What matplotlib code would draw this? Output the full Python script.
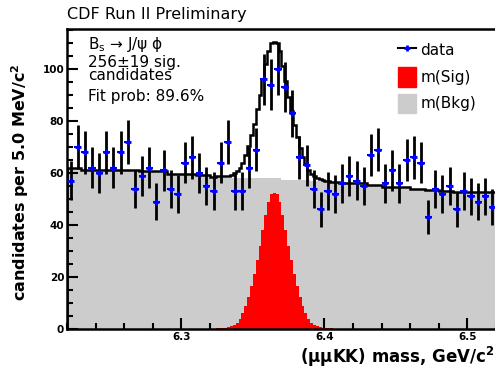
import numpy as np
import matplotlib.pyplot as plt
from matplotlib.lines import Line2D
from matplotlib.patches import Patch
from matplotlib.ticker import MultipleLocator

# Data: counts per 5 MeV bin from 6.22 to 6.52 GeV
bin_lo = 6.22
bin_width = 0.005
counts = [57, 70, 68, 62, 60, 68, 62, 68, 72, 54,
          59, 62, 49, 61, 54, 52, 64, 66, 60, 55,
          53, 64, 72, 53, 53, 62, 69, 96, 94, 100,
          93, 83, 66, 63, 54, 46, 53, 52, 56, 59,
          57, 55, 67, 69, 56, 61, 56, 65, 66, 64,
          43, 54, 52, 55, 46, 53, 51, 49, 51, 47]

# Background template, 10 MeV steps
bkg = [62, 61.2, 61.2, 61, 61, 60.8, 60.8, 59.8, 59.5, 59.3,
       58.5, 58.2, 58, 58, 58, 57.3, 57.3, 57, 56.5, 56,
       56, 55.5, 54.7, 54.5, 53.8, 53.6, 53, 52.8, 52.8, 52.6]

# Signal template, 2 MeV steps from 6.324 to 6.406
sig_lo = 6.324
sig = [0.2, 0.3, 0.4, 0.5, 0.8, 1.2, 1.7, 2.5, 4, 6,
       9, 12.5, 16.5, 21, 26.5, 32, 38, 44, 49, 52,
       52.5,
       52, 49, 44, 38, 32, 26.5, 21, 16.5, 12.5, 9,
       6, 4, 2.5, 1.7, 1.2, 0.8, 0.5, 0.4, 0.3, 0.2]


def main():
    x = bin_lo + bin_width * (np.arange(len(counts)) + 0.5)
    y = np.array(counts, dtype=float)

    # fine 2 MeV grid for the fit curve
    edges = np.linspace(6.22, 6.52, 151)
    bkg_fine = np.repeat(bkg, 5)
    sig_fine = np.zeros(150)
    i0 = int(round((sig_lo - 6.22) / 0.002))
    sig_fine[i0:i0 + len(sig)] = sig
    total = bkg_fine + sig_fine
    sig_edges = edges[i0:i0 + len(sig) + 1]

    fig = plt.figure(figsize=(4.95, 3.74), dpi=100)
    ax = fig.add_axes([67 / 495, 45 / 374, 429 / 495, 300 / 374])

    ax.stairs(bkg_fine, edges, fill=True, color='#cccccc', zorder=1)
    ax.stairs(sig, sig_edges, fill=True, color='#ff0000', zorder=2)
    ax.stairs(total, edges, color='black', lw=1.8, zorder=3)

    ax.errorbar(x, y, yerr=np.sqrt(y), fmt='none', ecolor='black',
                elinewidth=2, capsize=0, zorder=4)
    ax.errorbar(x, y, xerr=bin_width / 2, fmt='none', ecolor='blue',
                elinewidth=1.5, capsize=0, zorder=5)
    ax.plot(x, y, ls='none', marker='+', color='blue', ms=4, mew=2, zorder=6)

    ax.set_xlim(6.22, 6.52)
    ax.set_ylim(0, 115.4)
    ax.xaxis.set_major_locator(MultipleLocator(0.1))
    ax.xaxis.set_minor_locator(MultipleLocator(0.02))
    ax.yaxis.set_major_locator(MultipleLocator(20))
    ax.yaxis.set_minor_locator(MultipleLocator(5))
    ax.tick_params(which='both', direction='in', top=False, right=False,
                   width=1.5, labelsize=7.5)
    ax.tick_params(which='major', length=8, pad=2)
    ax.tick_params(which='minor', length=4)
    ax.set_xticks([6.3, 6.4, 6.5])
    ax.set_xticklabels(['6.3', '6.4', '6.5'], fontweight='bold')
    ax.set_yticks([0, 20, 40, 60, 80, 100])
    ax.set_yticklabels(['0', '20', '40', '60', '80', '100'], fontweight='bold')
    for s in ['left', 'bottom', 'top']:
        ax.spines[s].set_linewidth(1.8)
    ax.spines['right'].set_visible(False)

    fig.text(67 / 495, 1 - 15 / 374, 'CDF Run II Preliminary', fontsize=11.5,
             ha='left', va='center')
    fig.text(1.0, 1 - 357 / 374, '(μμKK) mass, GeV/c$^\\mathbf{2}$',
             fontsize=12, fontweight='bold', ha='right', va='center')
    fig.text(20 / 495, 1 - 182 / 374, 'candidates per 5.0 MeV/c$^\\mathbf{2}$',
             fontsize=11.5, fontweight='bold', rotation=90, ha='center',
             va='center')

    tx = 21 / 429
    ax.text(tx, 1 - 15 / 300, 'B$_\\mathregular{s}$ → J/ψ ϕ',
            transform=ax.transAxes, fontsize=11, va='center', ha='left')
    ax.text(tx, 1 - 40 / 300, '256±19 sig.\ncandidates',
            transform=ax.transAxes, fontsize=11, va='center', ha='left',
            linespacing=0.75)
    ax.text(tx, 1 - 68 / 300, 'Fit prob: 89.6%', transform=ax.transAxes,
            fontsize=11, va='center', ha='left')

    handles = [Line2D([0], [0], color='black', lw=1.5, marker='+',
                      mec='blue', ms=4, mew=2),
               Patch(color='#ff0000'), Patch(color='#cccccc')]
    fig.legend(handles, ['data', 'm(Sig)', 'm(Bkg)'], loc='upper left',
               bbox_to_anchor=(390 / 495, 1 - 33 / 374), frameon=False,
               fontsize=11, handlelength=1.2, handleheight=1.6,
               handletextpad=0.3, labelspacing=0.45, borderpad=0)

    fig.savefig('out.png', dpi=100)


if __name__ == '__main__':
    main()
